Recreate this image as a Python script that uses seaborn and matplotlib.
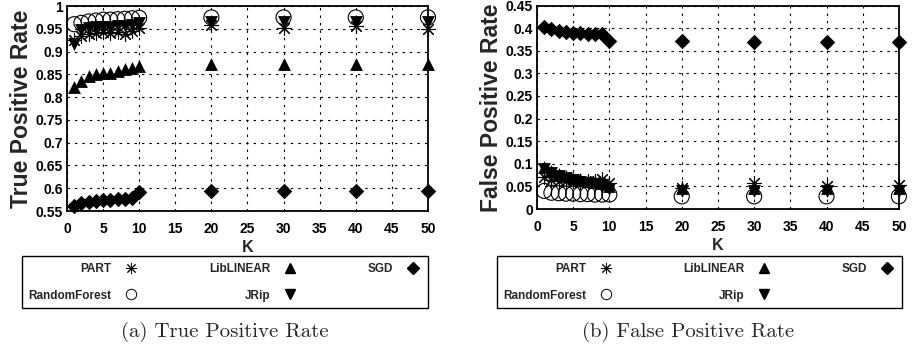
import matplotlib
matplotlib.use("Agg")
import matplotlib.pyplot as plt
from matplotlib.lines import Line2D
import seaborn as sns
import pandas as pd

# ---------------- data ----------------
K = [1, 2, 3, 4, 5, 6, 7, 8, 9, 10, 20, 30, 40, 50]
classifiers = ["PART", "RandomForest", "LibLINEAR", "JRip", "SGD"]

tpr_part = [0.925, 0.935, 0.938, 0.940, 0.942, 0.940, 0.942, 0.938, 0.945, 0.952, 0.958, 0.951, 0.957, 0.950]
tpr_rf = [0.960, 0.963, 0.966, 0.968, 0.970, 0.970, 0.971, 0.972, 0.973, 0.974, 0.975, 0.975, 0.975, 0.975]
tpr_liblinear = [0.823, 0.835, 0.846, 0.850, 0.852, 0.854, 0.857, 0.861, 0.864, 0.869, 0.872, 0.872, 0.872, 0.872]
tpr_jrip = [0.917, 0.948, 0.952, 0.953, 0.954, 0.955, 0.956, 0.957, 0.958, 0.962, 0.965, 0.964, 0.965, 0.964]
tpr_sgd = [0.562, 0.567, 0.570, 0.572, 0.574, 0.575, 0.576, 0.577, 0.579, 0.592, 0.594, 0.594, 0.594, 0.594]

fpr_part = [0.070, 0.065, 0.063, 0.062, 0.061, 0.060, 0.062, 0.063, 0.066, 0.058, 0.047, 0.057, 0.050, 0.054]
fpr_rf = [0.040, 0.036, 0.035, 0.034, 0.034, 0.033, 0.033, 0.032, 0.032, 0.032, 0.028, 0.028, 0.028, 0.028]
fpr_liblinear = [0.093, 0.085, 0.077, 0.072, 0.068, 0.066, 0.063, 0.060, 0.058, 0.050, 0.046, 0.046, 0.046, 0.046]
fpr_jrip = [0.088, 0.080, 0.072, 0.068, 0.064, 0.060, 0.058, 0.055, 0.052, 0.045, 0.039, 0.039, 0.039, 0.039]
fpr_sgd = [0.403, 0.399, 0.394, 0.391, 0.390, 0.389, 0.388, 0.388, 0.387, 0.372, 0.371, 0.370, 0.370, 0.370]

tpr_ticks = [0.55, 0.6, 0.65, 0.7, 0.75, 0.8, 0.85, 0.9, 0.95, 1]
tpr_ticklabels = ["0.55", "0.6", "0.65", "0.7", "0.75", "0.8", "0.85", "0.9", "0.95", "1"]
fpr_ticks = [0, 0.05, 0.1, 0.15, 0.2, 0.25, 0.3, 0.35, 0.4, 0.45]
fpr_ticklabels = ["0", "0.05", "0.1", "0.15", "0.2", "0.25", "0.3", "0.35", "0.4", "0.45"]
k_ticks = [0, 5, 10, 15, 20, 25, 30, 35, 40, 45, 50]

tpr_series = [tpr_part, tpr_rf, tpr_liblinear, tpr_jrip, tpr_sgd]
fpr_series = [fpr_part, fpr_rf, fpr_liblinear, fpr_jrip, fpr_sgd]

# ---------------- style ----------------
sns.set_theme(style="white")
plt.rcParams["font.family"] = ["Liberation Sans", "DejaVu Sans"]
plt.rcParams["font.weight"] = "bold"

marker_style = {
    "PART": dict(marker=(8, 2, 0), s=100, color="black", linewidth=0.8),
    "RandomForest": dict(marker="o", s=118, facecolors="none", edgecolor="black", linewidth=0.8),
    "LibLINEAR": dict(marker="^", s=85, color="black", edgecolor="black", linewidth=0),
    "JRip": dict(marker="v", s=85, color="black", edgecolor="black", linewidth=0),
    "SGD": dict(marker="D", s=62, color="black", edgecolor="black", linewidth=0),
}

fig = plt.figure(figsize=(9.21, 3.49), dpi=100)
ax1 = fig.add_axes([0.0727, 0.3954, 0.392, 0.5874])
ax2 = fig.add_axes([0.583, 0.4011, 0.393, 0.5831])


def draw(ax, series, yticks, yticklabels, ylim, ylabel):
    for name, vals in zip(classifiers, series):
        df = pd.DataFrame({"K": K, "v": vals})
        sns.scatterplot(data=df, x="K", y="v", ax=ax, legend=False,
                        clip_on=False, zorder=3, **marker_style[name])
    ax.set_xlim(0, 50)
    ax.set_ylim(*ylim)
    ax.set_xticks(k_ticks)
    ax.set_xticklabels([str(t) for t in k_ticks], fontsize=10, fontweight="bold")
    ax.set_yticks(yticks)
    ax.set_yticklabels(yticklabels, fontsize=10, fontweight="bold")
    ax.grid(True, color="black", linestyle=(0, (2.2, 4.5)), linewidth=0.8)
    for sp in ax.spines.values():
        sp.set_color("black")
        sp.set_linewidth(1.3)
    ax.tick_params(axis="x", direction="in", length=0, pad=8, colors="black")
    ax.tick_params(axis="y", direction="in", length=0, pad=3, colors="black")
    ax.set_xlabel("K", fontsize=11.5, fontweight="bold", labelpad=3)
    ax.set_ylabel(ylabel, fontsize=16.5, fontweight="bold", labelpad=2)
    ax.set_axisbelow(True)


draw(ax1, tpr_series, tpr_ticks, tpr_ticklabels, (0.55, 1.0), "True Positive Rate")
draw(ax2, fpr_series, fpr_ticks, fpr_ticklabels, (0.0, 0.45), "False Positive Rate")


def handle(name):
    if name == "PART":
        return Line2D([], [], linestyle="none", marker=(8, 2, 0), markersize=8,
                      markeredgecolor="black", markeredgewidth=0.7)
    if name == "RandomForest":
        return Line2D([], [], linestyle="none", marker="o", markersize=7.5,
                      markerfacecolor="none", markeredgecolor="black", markeredgewidth=0.7)
    m = marker_style[name]["marker"]
    ms = {"^": 7.5, "v": 7.5, "D": 6}[m]
    return Line2D([], [], linestyle="none", marker=m, markersize=ms,
                  markerfacecolor="black", markeredgecolor="black")


handles = [handle(n) for n in classifiers]
for bbox in [(22 / 921, 41 / 349, 406 / 921, 50 / 349), (497 / 921, 41 / 349, 405 / 921, 50 / 349)]:
    leg = fig.legend(handles, classifiers, loc="lower left", bbox_to_anchor=bbox,
                     mode="expand", ncol=3, markerfirst=False, frameon=True,
                     fancybox=False, edgecolor="black", framealpha=1,
                     prop={"family": "Liberation Sans", "weight": "bold", "size": 8.5},
                     borderaxespad=0, handletextpad=0.9, labelspacing=1.25,
                     borderpad=0.55, columnspacing=1.0, handlelength=1.5)
    leg.get_frame().set_linewidth(1.0)

fig.text(225 / 921, 0.049, "(a) True Positive Rate", ha="center", va="center",
         fontsize=15, family=["cmr10", "DejaVu Serif"], fontweight="normal")
fig.text(688 / 921, 0.049, "(b) False Positive Rate", ha="center", va="center",
         fontsize=15, family=["cmr10", "DejaVu Serif"], fontweight="normal")

fig.savefig("out.png", dpi=100)
